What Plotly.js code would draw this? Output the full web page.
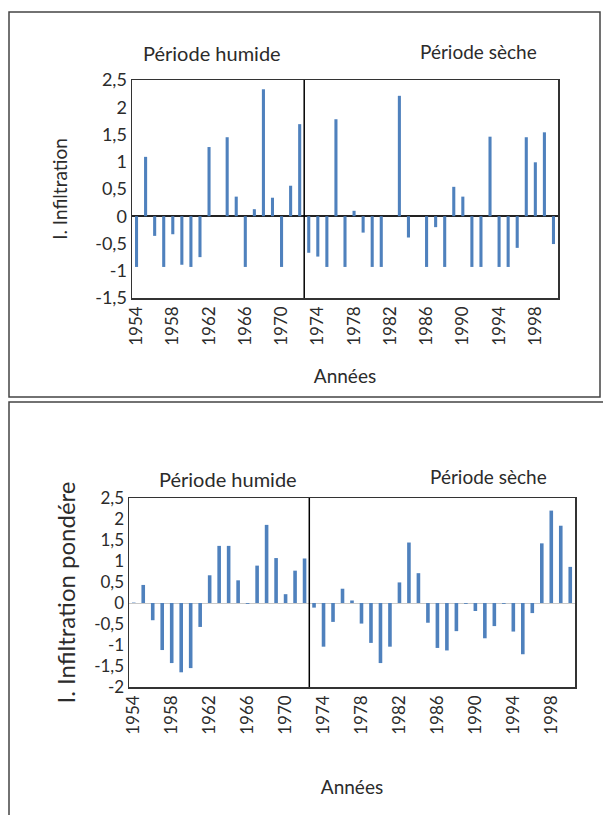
<!DOCTYPE html>
<html>
<head>
<meta charset="utf-8">
<script src="https://cdn.plot.ly/plotly-3.0.1.min.js"></script>
<style>html,body{margin:0;padding:0;background:#fff;}#chart{width:603px;height:815px;}</style>
</head>
<body>
<div id="chart"></div>
<script>
// ---- data ----
const years = [1954,1955,1956,1957,1958,1959,1960,1961,1962,1963,1964,1965,1966,1967,1968,1969,1970,1971,1972,
               1973,1974,1975,1976,1977,1978,1979,1980,1981,1982,1983,1984,1985,1986,1987,1988,1989,1990,1991,1992,
               1993,1994,1995,1996,1997,1998,1999,2000];
const infiltration = [-0.93,1.09,-0.36,-0.93,-0.33,-0.89,-0.93,-0.75,1.27,0,1.45,0.36,-0.93,0.13,2.33,0.34,-0.93,0.56,1.69,
                      -0.67,-0.74,-0.93,1.78,-0.93,0.10,-0.30,-0.93,-0.93,0,2.21,-0.39,0,-0.93,-0.20,-0.93,0.54,0.36,-0.93,-0.93,
                      1.46,-0.93,-0.93,-0.58,1.45,0.99,1.54,-0.51];
const infiltrationPondere = [0.01,0.43,-0.41,-1.12,-1.43,-1.65,-1.55,-0.57,0.66,1.36,1.36,0.54,-0.02,0.89,1.86,1.07,0.21,0.77,1.06,
                             -0.11,-1.04,-0.45,0.34,0.06,-0.49,-0.95,-1.43,-1.04,0.49,1.44,0.71,-0.47,-1.07,-1.13,-0.67,-0.02,-0.19,-0.84,-0.55,
                             -0.02,-0.68,-1.22,-0.24,1.42,2.20,1.84,0.86];
const xTickVals = [1954,1958,1962,1966,1970,1974,1978,1982,1986,1990,1994,1998];
const xTickText = ["1954","1958","1962","1966","1970","1974","1978","1982","1986","1990","1994","1998"];
const yTickVals1 = [-1.5,-1,-0.5,0,0.5,1,1.5,2,2.5];
const yTickText1 = ["-1,5","-1","-0,5","0","0,5","1","1,5","2","2,5"];
const yTickVals2 = [-2,-1.5,-1,-0.5,0,0.5,1,1.5,2,2.5];
const yTickText2 = ["-2","-1,5","-1","-0,5","0","0,5","1","1,5","2","2,5"];
const periodSplit = 1972.5;
const labels = {humide: "Période humide", seche: "Période sèche", xTitle: "Années",
                yTitle1: "I. Infiltration", yTitle2: "I. Infiltration pondére"};

// ---- styles ----
const W = 603, H = 815;
const FONT = "Lato, 'Open Sans', sans-serif";
const BAR = "#4f81bd";
const TXT = "#2b2b2b";
const px = v => v / W;
const py = v => 1 - v / H;

const traces = [
  {type: "bar", x: years, y: infiltration, xaxis: "x", yaxis: "y",
   marker: {color: BAR}, width: 0.34, hoverinfo: "x+y"},
  {type: "bar", x: years, y: infiltrationPondere, xaxis: "x2", yaxis: "y2",
   marker: {color: BAR}, width: 0.38, hoverinfo: "x+y"}
];

const axisCommon = {showgrid: false, showline: true, linecolor: "#333", linewidth: 1.5, mirror: true,
                    ticks: "", color: TXT};

const layout = {
  width: W, height: H,
  margin: {l: 0, r: 0, t: 0, b: 0},
  paper_bgcolor: "#fff", plot_bgcolor: "#fff",
  showlegend: false,
  font: {family: FONT, color: TXT},
  xaxis: Object.assign({}, axisCommon, {
    domain: [px(132), px(558)], range: [1953.5, 2000.5], anchor: "y",
    tickvals: xTickVals, ticktext: xTickText, tickangle: -90, tickfont: {size: 17},
    zeroline: false,
    title: {text: labels.xTitle, font: {size: 19}, standoff: 25}
  }),
  yaxis: Object.assign({}, axisCommon, {
    domain: [py(298), py(80)], range: [-1.5, 2.5], anchor: "x",
    tickvals: yTickVals1, ticktext: yTickText1, tickfont: {size: 18},
    zeroline: true, zerolinecolor: "#222", zerolinewidth: 2,
    title: {text: labels.yTitle1, font: {size: 19}, standoff: 22}
  }),
  xaxis2: Object.assign({}, axisCommon, {
    domain: [px(129), px(575)], range: [1953.5, 2000.5], anchor: "y2",
    tickvals: xTickVals, ticktext: xTickText, tickangle: -90, tickfont: {size: 17},
    zeroline: false,
    title: {text: labels.xTitle, font: {size: 19}, standoff: 47}
  }),
  yaxis2: Object.assign({}, axisCommon, {
    domain: [py(687), py(498)], range: [-2, 2.5], anchor: "x2",
    tickvals: yTickVals2, ticktext: yTickText2, tickfont: {size: 17},
    zeroline: true, zerolinecolor: "#c8c8c8", zerolinewidth: 1,
    title: {text: labels.yTitle2, font: {size: 24}, standoff: 12}
  }),
  annotations: [
    {xref: "paper", yref: "paper", x: px(212), y: py(53), xanchor: "center", yanchor: "middle",
     text: labels.humide, showarrow: false, font: {size: 20, color: TXT}},
    {xref: "paper", yref: "paper", x: px(478), y: py(52), xanchor: "center", yanchor: "middle",
     text: labels.seche, showarrow: false, font: {size: 19, color: TXT}},
    {xref: "paper", yref: "paper", x: px(228), y: py(479), xanchor: "center", yanchor: "middle",
     text: labels.humide, showarrow: false, font: {size: 20, color: TXT}},
    {xref: "paper", yref: "paper", x: px(488), y: py(477), xanchor: "center", yanchor: "middle",
     text: labels.seche, showarrow: false, font: {size: 19, color: TXT}}
  ],
  shapes: [
    {type: "line", xref: "x", yref: "y domain", x0: periodSplit, x1: periodSplit, y0: 0, y1: 1,
     line: {color: "#000", width: 1.5}},
    {type: "line", xref: "x2", yref: "y2 domain", x0: periodSplit, x1: periodSplit, y0: 0, y1: 1,
     line: {color: "#000", width: 1.5}},
    {type: "rect", xref: "paper", yref: "paper", x0: px(9), x1: px(600), y0: py(397), y1: py(12),
     line: {color: "#444", width: 1.5}},
    {type: "rect", xref: "paper", yref: "paper", x0: px(9), x1: px(640), y0: py(840), y1: py(402),
     line: {color: "#444", width: 1.5}}
  ]
};

Plotly.newPlot("chart", traces, layout, {displayModeBar: false, staticPlot: true});
</script>
</body>
</html>
